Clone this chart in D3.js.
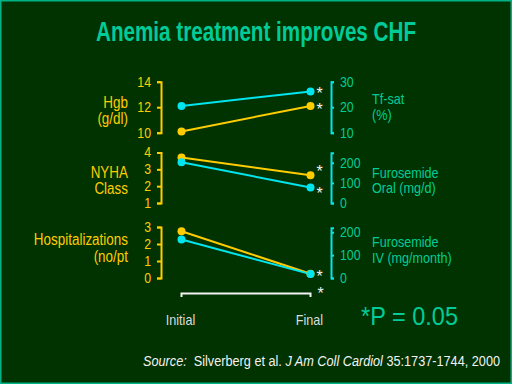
<!DOCTYPE html>
<html>
<head>
<meta charset="utf-8">
<script src="https://cdn.jsdelivr.net/npm/d3@7"></script>
<style>
  html, body { margin: 0; padding: 0; background: #003300; }
  svg text { font-family: "Liberation Sans", Arial, sans-serif; }
</style>
</head>
<body>
<div class="slide"></div>
<script>
var width = 512
var height = 384

// values
var timepoints = ["Initial", "Final"]
var hgbValues = [10.1, 12.1]          // g/dl, left axis
var tfsatValues = [20.5, 26.2]        // %, right axis
var nyhaValues = [3.7, 2.65]          // class, left axis
var furoOralValues = [203, 77]        // mg/d, right axis
var hospValues = [2.75, 0.25]         // no/pt, left axis
var furoIvValues = [168, 17]          // mg/month, right axis

var hgbTicks = [10, 12, 14]
var tfsatTicks = [10, 20, 30]
var nyhaTicks = [1, 2, 3, 4]
var furoOralTicks = [0, 100, 200]
var hospTicks = [0, 1, 2, 3]
var furoIvTicks = [0, 100, 200]

var yellow = "#FFCC00"
var cyan = "#00E5EE"
var teal = "#00CC99"
var white = "#F2F2F2"

var svg = d3.select(".slide").append("svg")
    .attr("width", width)
    .attr("height", height)

// the slide font is a narrow arial, squeeze the glyphs to match
function condense(sel, k){
  sel.each(function(){
    var len = this.getComputedTextLength()
    d3.select(this).attr("textLength", len * k).attr("lengthAdjust", "spacingAndGlyphs")
  })
}

svg.append("rect")
    .attr("x", 0.75).attr("y", 0.75)
    .attr("width", width - 1.5).attr("height", height - 1.5)
    .attr("fill", "#003300")
    .attr("stroke", "#00B386")
    .attr("stroke-width", 1.5)

svg.append("text")
    .attr("x", 256).attr("y", 41)
    .attr("text-anchor", "middle")
    .attr("font-size", 28)
    .attr("font-weight", "bold")
    .attr("fill", teal)
    .attr("textLength", 320)
    .attr("lengthAdjust", "spacingAndGlyphs")
    .text("Anemia treatment improves CHF")

var x = d3.scalePoint().domain(timepoints).range([181.5, 310.5])

var panels = [
  {left: hgbValues, right: tfsatValues,
   yl: d3.scaleLinear().domain([10, 14]).range([132.7, 81.7]), lt: hgbTicks,
   yr: d3.scaleLinear().domain([10, 30]).range([132.7, 81.7]), rt: tfsatTicks,
   lLabel: ["Hgb", "(g/dl)"], lLabelY: [108, 124],
   rLabel: ["Tf-sat", "(%)"], rLabelY: [104, 120],
   stars: [{s: "r", dy: -1}, {s: "l", dy: 0}]},
  {left: nyhaValues, right: furoOralValues,
   yl: d3.scaleLinear().domain([1, 4]).range([203, 152.5]), lt: nyhaTicks,
   yr: d3.scaleLinear().domain([0, 250]).range([203, 152.7]), rt: furoOralTicks,
   lLabel: ["NYHA", "Class"], lLabelY: [178, 194],
   rLabel: ["Furosemide", "Oral (mg/d)"], rLabelY: [178, 193],
   stars: [{s: "l", dy: -7}, {s: "r", dy: 2.5}]},
  {left: hospValues, right: furoIvValues,
   yl: d3.scaleLinear().domain([0, 3]).range([278, 227]), lt: hospTicks,
   yr: d3.scaleLinear().domain([0, 220]).range([278, 227.7]), rt: furoIvTicks,
   lLabel: ["Hospitalizations", "(no/pt"], lLabelY: [245, 262],
   rLabel: ["Furosemide", "IV (mg/month)"], rLabelY: [247, 263],
   stars: [{s: "r", dy: -1.5}]}
]

function styleAxis(g, color, textColor){
  g.attr("font-family", null)
  g.select(".domain").attr("stroke", color).attr("stroke-width", 2)
  g.selectAll(".tick line").attr("stroke", color).attr("stroke-width", 2)
  g.selectAll(".tick text")
    .attr("fill", textColor)
    .attr("font-size", 14)
    .call(condense, 0.88)
}

function drawStar(px, py){
  // py is the visual centre of the asterisk
  svg.append("text")
    .attr("x", px).attr("y", py + 9)
    .attr("text-anchor", "middle")
    .attr("font-size", 16)
    .attr("fill", white)
    .text("*")
}

panels.forEach(function(p){
  var gl = svg.append("g")
      .attr("transform", "translate(161,0)")
      .call(d3.axisLeft(p.yl).tickValues(p.lt).tickFormat(d3.format("d"))
        .tickSizeInner(4).tickSizeOuter(4).tickPadding(6))
  styleAxis(gl, yellow, yellow)

  var gr = svg.append("g")
      .attr("transform", "translate(331,0)")
      .call(d3.axisRight(p.yr).tickValues(p.rt).tickFormat(d3.format("d"))
        .tickSizeInner(3).tickSizeOuter(3).tickPadding(6))
  styleAxis(gr, cyan, teal)

  svg.append("g").selectAll("text")
      .data(p.lLabel)
      .join("text")
      .attr("text-anchor", "end")
      .attr("font-size", 16)
      .attr("fill", yellow)
      .attr("x", 128)
      .attr("y", function(d, i){ return p.lLabelY[i] })
      .text(function(d){ return d })
      .call(condense, 0.84)

  svg.append("g").selectAll("text")
      .data(p.rLabel)
      .join("text")
      .attr("font-size", 15)
      .attr("fill", teal)
      .attr("x", 372)
      .attr("y", function(d, i){ return p.rLabelY[i] })
      .text(function(d){ return d })
      .call(condense, 0.84)

  var series = [
    {vals: p.left, y: p.yl, color: yellow},
    {vals: p.right, y: p.yr, color: cyan}
  ]
  // cyan is drawn last so it sits on top
  series.forEach(function(s){
    var line = d3.line()
        .x(function(d, i){ return x(timepoints[i]) })
        .y(function(d){ return s.y(d) })
    svg.append("path")
        .attr("d", line(s.vals))
        .attr("fill", "none")
        .attr("stroke", s.color)
        .attr("stroke-width", 2)
  })
  series.forEach(function(s){
    svg.selectAll(null)
        .data(s.vals)
        .join("circle")
        .attr("cx", function(d, i){ return x(timepoints[i]) })
        .attr("cy", function(d){ return s.y(d) })
        .attr("r", 4)
        .attr("fill", s.color)
  })

  p.stars.forEach(function(st){
    var yy = st.s == "l" ? p.yl(p.left[1]) : p.yr(p.right[1])
    drawStar(x("Final") + 9, yy + st.dy)
  })
})

// bracket under the time axis
var bx0 = x("Initial"), bx1 = x("Final")
svg.append("path")
    .attr("d", "M" + bx0 + ",297V293.5H" + bx1 + "V297")
    .attr("fill", "none")
    .attr("stroke", white)
    .attr("stroke-width", 2)
drawStar(bx1 + 10, 290)

svg.selectAll(".tp")
    .data(timepoints)
    .join("text")
    .attr("class", "tp")
    .attr("x", function(d){ return x(d) - 1 })
    .attr("y", 325)
    .attr("text-anchor", "middle")
    .attr("font-size", 15)
    .attr("fill", "#DDDDDD")
    .text(function(d){ return d })
    .call(condense, 0.84)

svg.append("text")
    .attr("x", 409.5).attr("y", 325)
    .attr("text-anchor", "middle")
    .attr("font-size", 25)
    .attr("fill", teal)
    .attr("textLength", 97)
    .attr("lengthAdjust", "spacingAndGlyphs")
    .text("*P = 0.05")

var src = svg.append("text")
    .attr("x", 143).attr("y", 366)
    .attr("font-size", 14)
    .attr("fill", white)
    .attr("textLength", 357)
    .attr("lengthAdjust", "spacingAndGlyphs")
src.append("tspan").attr("font-style", "italic").text("Source:")
src.append("tspan").text("\u00a0 Silverberg et al. ")
src.append("tspan").attr("font-style", "italic").text("J Am Coll Cardiol")
src.append("tspan").text(" 35:1737-1744, 2000")
</script>
</body>
</html>
